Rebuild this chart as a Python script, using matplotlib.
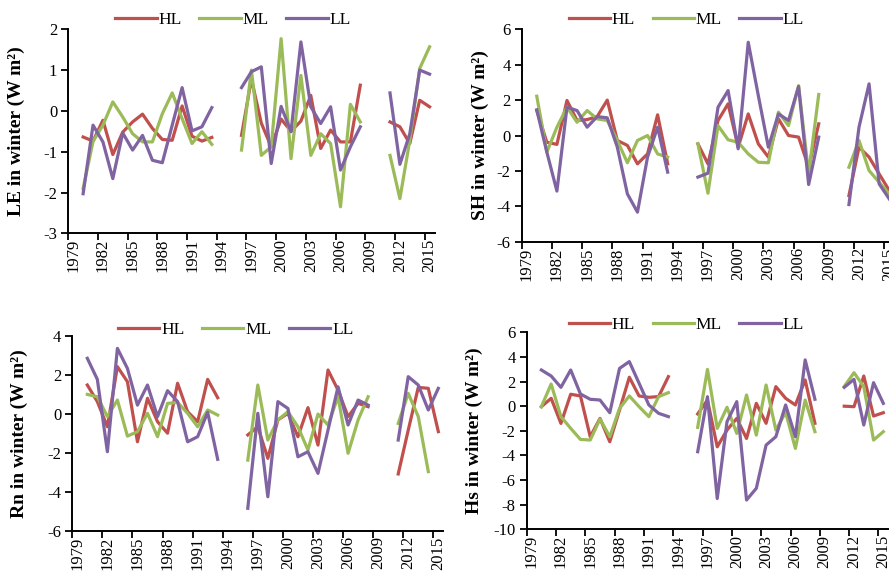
import numpy as np
import matplotlib
matplotlib.use('Agg')
import matplotlib.pyplot as plt

plt.rcParams['font.family'] = 'Liberation Serif'

nan = np.nan
years = np.arange(1980, 2016)

# winter anomalies 1980-2015 (no data 1994-1995, 2009-2010)
le_hl = [-0.64, -0.74, -0.23, -1.07, -0.52, -0.27, -0.08, -0.43, -0.70, -0.72, 0.12, -0.62, -0.74, -0.65, nan, nan,
         -0.60, 0.78, -0.30, -0.88, -0.20, -0.50, -0.25, 0.38, -0.92, -0.47, -0.76, -0.76, 0.63, nan, nan,
         -0.27, -0.39, -0.80, 0.26, 0.10]
le_ml = [-1.90, -0.75, -0.35, 0.22, -0.15, -0.56, -0.76, -0.76, -0.07, 0.44, -0.19, -0.80, -0.51, -0.82, nan, nan,
         -0.96, 1.00, -1.09, -0.88, 1.77, -1.17, 0.87, -1.09, -0.56, -0.80, -2.35, 0.16, -0.27, nan, nan,
         -1.09, -2.15, -0.72, 1.04, 1.57]
le_ll = [-2.03, -0.35, -0.76, -1.66, -0.54, -0.96, -0.60, -1.21, -1.27, -0.35, 0.57, -0.49, -0.39, 0.08, nan, nan,
         0.57, 0.96, 1.08, -1.29, 0.11, -0.51, 1.69, 0.10, -0.31, 0.10, -1.45, -0.88, -0.39, nan, nan,
         0.44, -1.31, -0.56, 1.00, 0.90]

sh_hl = [1.41, -0.38, -0.50, 1.98, 0.85, 0.90, 1.07, 2.00, -0.28, -0.56, -1.60, -1.04, 1.17, -1.60, nan, nan,
         -0.47, -1.60, 0.85, 1.79, -0.66, 1.22, -0.47, -1.22, 0.94, 0.00, -0.09, -1.79, 0.66, nan, nan,
         -3.39, -0.66, -1.22, -2.17, -3.10]
sh_ml = [2.22, -0.94, 0.47, 1.60, 0.75, 1.41, 0.94, 0.85, -0.28, -1.54, -0.28, 0.00, -1.04, -1.22, nan, nan,
         -0.47, -3.26, 0.56, -0.24, -0.38, -1.04, -1.51, -1.54, 1.32, 0.56, 2.82, -2.17, 2.32, nan, nan,
         -1.79, -0.28, -1.98, -2.64, -3.30]
sh_ll = [1.45, -0.94, -3.14, 1.60, 1.41, 0.47, 1.07, 1.00, -0.66, -3.30, -4.33, -1.22, 0.47, -2.07, nan, nan,
         -2.35, -2.13, 1.60, 2.54, -0.75, 5.27, 2.26, -0.66, 1.22, 0.85, 2.77, -2.77, -0.09, nan, nan,
         -3.90, 0.47, 2.92, -2.73, -3.58]

rn_hl = [1.47, 0.62, -0.67, 2.41, 1.64, -1.44, 0.79, -0.41, -1.00, 1.56, 0.10, -0.41, 1.76, 0.82, nan, nan,
         -1.09, -0.67, -2.29, -0.32, 0.02, -1.18, 0.31, -1.61, 2.24, 1.21, -0.15, 0.53, 0.36, nan, nan,
         -3.09, -0.84, 1.35, 1.30, -0.92]
rn_ml = [0.99, 0.87, -0.15, 0.70, -1.15, -0.92, 0.02, -1.18, 0.53, 0.58, 0.02, -0.67, 0.19, -0.07, nan, nan,
         -2.38, 1.47, -1.35, -0.32, 0.10, -0.67, -1.86, -0.02, -0.58, 0.87, -2.03, -0.32, 0.87, nan, nan,
         -0.50, 1.04, -0.15, -2.97, nan]
rn_ll = [2.84, 1.76, -1.95, 3.35, 2.32, 0.44, 1.47, -0.15, 1.18, 0.62, -1.44, -1.18, 0.07, -2.34, nan, nan,
         -4.85, 0.02, -4.26, 0.62, 0.27, -2.21, -1.95, -3.06, -0.84, 1.38, -0.58, 0.70, 0.44, nan, nan,
         -1.35, 1.90, 1.47, 0.19, 1.30]

hs_hl = [-0.04, 0.64, -1.40, 0.97, 0.83, -2.48, -0.99, -2.89, -0.31, 2.35, 0.83, 0.72, 0.78, 2.40, nan, nan,
         -0.63, 0.50, -3.30, -1.94, -0.99, -2.62, 0.23, -1.39, 1.59, 0.64, 0.10, 2.13, -1.39, nan, nan,
         0.00, -0.04, 2.45, -0.80, -0.53]
hs_ml = [-0.04, 1.80, -0.85, -1.80, -2.70, -2.75, -1.04, -2.48, -0.18, 0.83, -0.04, -0.85, 0.78, 1.10, nan, nan,
         -1.72, 2.99, -1.80, -0.09, -2.21, 0.91, -2.35, 1.72, -1.94, -0.50, -3.43, 0.50, -2.07, nan, nan,
         1.60, 2.72, 1.59, -2.75, -2.07]
hs_ll = [2.94, 2.45, 1.53, 2.94, 0.99, 0.56, 0.50, -0.53, 3.07, 3.62, 1.86, 0.10, -0.58, -0.85, nan, nan,
         -3.70, 0.77, -7.50, -1.26, 0.37, -7.62, -6.67, -3.16, -2.48, 0.10, -2.48, 3.76, 0.56, nan, nan,
         1.53, 2.18, -1.53, 1.91, 0.23]

names = ['HL', 'ML', 'LL']
colors = ['#C0504D', '#9BBB59', '#8064A2']

fig = plt.figure(figsize=(8.89, 5.83), dpi=100)

# rect, data, y-limits, y step, label, label x (axes coords), legend centre (figure coords)
panels = [
    ([0.0768, 0.5998, 0.4120, 0.3500], [le_hl, le_ml, le_ll], (-3, 2), 1, 'LE in winter (W m²)', -0.118, (0.262, 0.966)),
    ([0.5868, 0.5854, 0.4191, 0.3643], [sh_hl, sh_ml, sh_ll], (-6, 6), 2, 'SH in winter (W m²)', -0.088, (0.772, 0.966)),
    ([0.0813, 0.0897, 0.4174, 0.3345], [rn_hl, rn_ml, rn_ll], (-6, 4), 2, 'Rn in winter (W m²)', -0.120, (0.265, 0.434)),
    ([0.5925, 0.0921, 0.4066, 0.3379], [hs_hl, hs_ml, hs_ll], (-10, 6), 2, 'Hs in winter (W m²)', -0.120, (0.772, 0.442)),
]

for rect, series, ylim, step, label, lab_x, leg_xy in panels:
    ax = fig.add_axes(rect)
    for vals, name, c in zip(series, names, colors):
        ax.plot(years, np.array(vals, dtype=float), color=c, lw=2.3, label=name)

    ax.set_xlim(1978.5, 2015.5)
    ax.set_ylim(*ylim)
    yt = np.arange(ylim[0], ylim[1] + 0.1, step)
    ax.set_yticks(yt)
    ax.set_yticklabels([str(int(v)) for v in yt])

    # tick marks sit between categories, labels on the year
    ax.set_xticks(np.arange(1978.5, 2016, 3))
    ax.set_xticklabels([])
    ax.set_xticks(np.arange(1979, 2016, 3), minor=True)
    ax.set_xticklabels([str(y) for y in range(1979, 2016, 3)], minor=True, rotation=90)
    ax.tick_params(axis='x', which='minor', length=0, pad=4, labelsize=12)
    ax.tick_params(axis='x', which='major', length=5, width=1.3, direction='out')
    ax.tick_params(axis='y', length=5, width=1.3, direction='out', labelsize=12, pad=3)

    for s in ['top', 'right']:
        ax.spines[s].set_visible(False)
    for s in ['left', 'bottom']:
        ax.spines[s].set_linewidth(1.4)

    ax.set_ylabel(label, fontsize=14, fontweight='bold')
    ax.yaxis.set_label_coords(lab_x, 0.5)
    ax.legend(loc='center', bbox_to_anchor=leg_xy, bbox_transform=fig.transFigure,
              ncol=3, frameon=False, fontsize=12.5, handlelength=2.4, handletextpad=0.1,
              columnspacing=1.0, borderpad=0)

fig.savefig('out.png', dpi=100)
